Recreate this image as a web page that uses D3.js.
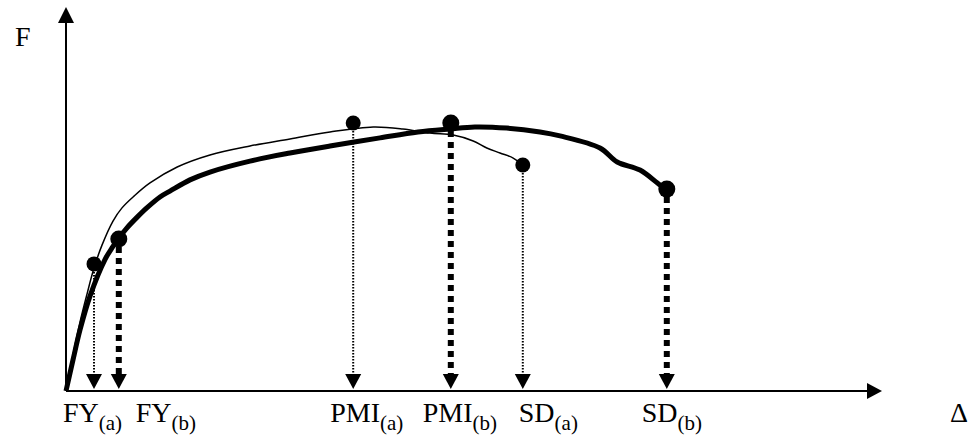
<!DOCTYPE html>
<html>
<head>
<meta charset="utf-8">
<script src="https://cdn.jsdelivr.net/npm/d3@7"></script>
<style>
  body { margin: 0; background: #fff; }
  text { font-family: "Liberation Serif", "Times New Roman", serif; fill: #000; }
</style>
</head>
<body>
<svg id="chart" width="977" height="440"></svg>
<script>
// force-displacement curves, (a) thin and (b) thick, in displacement / force units
var curve_a = [[0, 0], [0.875, 12.9], [1.75, 24.6], [2.625, 34.6], [3.5, 43.9], [4.5, 52.1],
    [5.875, 60.7], [7, 65.4], [8.5, 69.6], [10.5, 74.3], [13.9, 80], [18, 84.3], [23, 87.5],
    [28, 90], [33, 92.5], [38.4, 94.3], [42.1, 93.6], [45.5, 92.1], [48.4, 91.4], [50.9, 89.3],
    [52.6, 86.8], [54.25, 85], [55.9, 83.2], [57.1, 80.7]];
var curve_b = [[0, 0], [0.875, 11.1], [1.75, 21.8], [3, 33.9], [4.9, 47.1], [5.75, 51.1],
    [6.6, 54.6], [7.6, 58.2], [8.9, 62.1], [10.1, 65.4], [11.75, 69.3], [13, 71.4], [15.5, 75.4],
    [18, 78.2], [23, 82.1], [28, 85], [33, 87.5], [39.25, 90.4], [44, 92.5], [48, 93.6],
    [51.1, 94.3], [55.1, 93.9], [59.25, 92.5], [61.75, 91.1], [66.75, 86.8], [68.9, 81.8],
    [71.75, 78.9], [74.25, 73.6], [75.1, 72.1]];

// marked points
var point_names = ['FY', 'FY', 'PMI', 'PMI', 'SD', 'SD'];
var point_series = ['a', 'b', 'a', 'b', 'a', 'b'];
var point_x = [3.5, 6.6, 35.9, 48.1, 57.1, 75.1];
var point_y = [45.4, 54.3, 95.7, 95.7, 80.7, 72.1];

var svg = d3.select('#chart');
var xs = d3.scaleLinear().domain([0, 100]).range([66, 866]);
var ys = d3.scaleLinear().domain([0, 100]).range([391, 111]);

var points = point_names.map(function(n, i) {
    return {name: n, s: point_series[i], x: point_x[i], y: point_y[i]};
});

// axes with arrow heads
svg.append('line')
    .attr('x1', xs(0)).attr('y1', ys(0))
    .attr('x2', xs(0)).attr('y2', 22)
    .attr('stroke', '#000').attr('stroke-width', 2);
svg.append('path')
    .attr('d', 'M' + (xs(0) - 8) + ',23 L' + (xs(0) + 8) + ',23 L' + xs(0) + ',7 Z')
    .attr('fill', '#000');
svg.append('line')
    .attr('x1', xs(0)).attr('y1', ys(0))
    .attr('x2', 868).attr('y2', ys(0))
    .attr('stroke', '#000').attr('stroke-width', 2);
svg.append('path')
    .attr('d', 'M867,' + (ys(0) - 8) + ' L867,' + (ys(0) + 8) + ' L882,' + ys(0) + ' Z')
    .attr('fill', '#000');

svg.append('text').attr('x', 15).attr('y', 46).style('font-size', '28px').text('F');
svg.append('text').attr('x', 959).attr('y', 422).attr('text-anchor', 'middle')
    .style('font-size', '28px').text('\u0394');

var line = d3.line()
    .x(d => xs(d[0]))
    .y(d => ys(d[1]))
    .curve(d3.curveCatmullRom.alpha(0.5));

svg.append('path').datum(curve_a)
    .attr('fill', 'none').attr('stroke', '#000').attr('stroke-width', 1.5)
    .attr('stroke-linejoin', 'round')
    .attr('d', line);
svg.append('path').datum(curve_b)
    .attr('fill', 'none').attr('stroke', '#000').attr('stroke-width', 5)
    .attr('stroke-linejoin', 'round')
    .attr('d', line);

// drop lines to the axis
var arrow_h = 15, arrow_w = 8;
svg.selectAll('.drop').data(points).enter().append('line')
    .attr('x1', d => xs(d.x)).attr('x2', d => xs(d.x))
    .attr('y1', d => ys(d.y) + 8)
    .attr('y2', ys(0) - 2 - arrow_h)
    .attr('stroke', '#000')
    .attr('stroke-width', d => d.s == 'a' ? 2 : 6)
    .attr('stroke-dasharray', d => d.s == 'a' ? '1.5,1.5' : '6,5');
svg.selectAll('.head').data(points).enter().append('path')
    .attr('d', function(d) {
        var x = xs(d.x), y = ys(0) - 2;
        return 'M' + (x - arrow_w) + ',' + (y - arrow_h) + ' L' + (x + arrow_w) + ',' + (y - arrow_h) + ' L' + x + ',' + y + ' Z';
    })
    .attr('fill', '#000');

svg.selectAll('.dot').data(points).enter().append('circle')
    .attr('cx', d => xs(d.x)).attr('cy', d => ys(d.y))
    .attr('r', d => d.s == 'a' ? 7.5 : 8.5)
    .attr('fill', '#000');

// labels under the axis
var label_shift = [-31, 17, -23, -28, -4, -25];
var labels = svg.selectAll('.lab').data(points).enter().append('text')
    .attr('x', (d, i) => xs(d.x) + label_shift[i])
    .attr('y', 422)
    .style('font-size', '28px');
labels.append('tspan').text(d => d.name);
labels.append('tspan').attr('dy', 8).style('font-size', '21px').text(d => '(' + d.s + ')');
</script>
</body>
</html>
